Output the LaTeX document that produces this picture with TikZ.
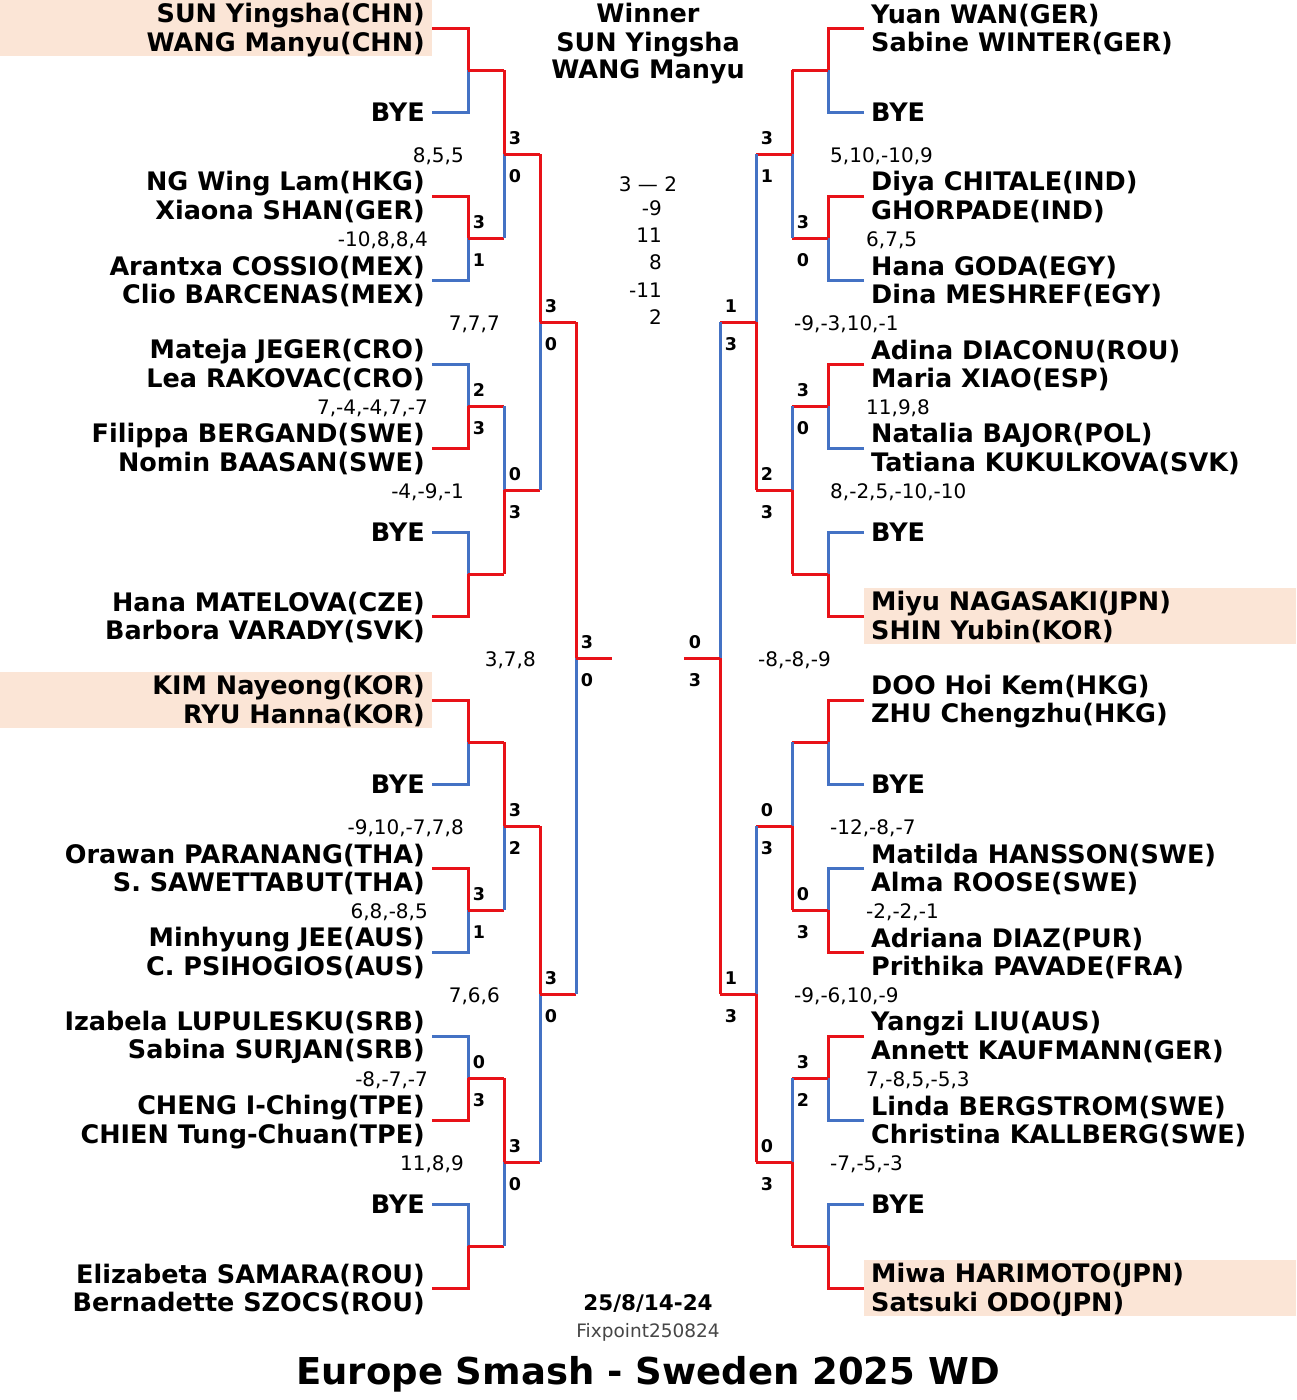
\documentclass[tikz,border=0pt]{standalone}
\usepackage{fontspec}
\setmainfont{DejaVu Sans}
\usetikzlibrary{calc}
\definecolor{wred}{RGB}{232,18,24}
\definecolor{lblue}{RGB}{68,114,196}
\definecolor{peach}{RGB}{251,229,214}
\definecolor{fxgray}{RGB}{70,70,70}
\newcommand\rs{\rule[-5pt]{0pt}{28pt}}
\newcommand\entL[1]{{\renewcommand\arraystretch{0}\begin{tabular}{@{}r@{}}#1\end{tabular}}}
\newcommand\entR[1]{{\renewcommand\arraystretch{0}\begin{tabular}{@{}l@{}}#1\end{tabular}}}
\tikzset{
  nmL/.style={anchor=east, inner xsep=7pt, inner ysep=0pt, font=\fontsize{25.5}{28}\selectfont\bfseries},
  nmR/.style={anchor=west, inner xsep=7pt, inner ysep=0pt, font=\fontsize{25.5}{28}\selectfont\bfseries},
  winln/.style={draw=wred, line width=3pt},
  loseln/.style={draw=lblue, line width=3pt},
  sclab/.style={font=\fontsize{17.5}{20}\selectfont\bfseries, inner sep=0pt},
  gscore/.style={font=\fontsize{20}{22}\selectfont, inner sep=0pt},
  hilite/.style={fill=peach, draw=none},
}
% labels for a left junction / right junction
\newcommand\scL[3]{\node[sclab] (s#1t) at ($(#1)+(11,-16)$) {#2};\node[sclab] (s#1b) at ($(#1)+(11,22)$) {#3};}
\newcommand\scR[3]{\node[sclab] (s#1t) at ($(#1)+(-25,-16)$) {#2};\node[sclab] (s#1b) at ($(#1)+(-25,22)$) {#3};}
\newcommand\gsL[2]{\node[gscore, anchor=base east] (g#1) at ($(#1)+(-40,8)$) {#2};}
\newcommand\gsR[2]{\node[gscore, anchor=base west] (g#1) at ($(#1)+(38,8)$) {#2};}
% connectors
\newcommand\firstL[3]{\draw[#1] (#2.east) -| (#3);}
\newcommand\firstR[3]{\draw[#1] (#2.west) -| (#3);}
\newcommand\adv[3]{\draw[winln] (#2) -- (#2 -| #3);\draw[#1] (#2 -| #3) -- (#3);}
\begin{document}
\begin{tikzpicture}[x=1pt,y=-1pt]
\useasboundingbox (0,0) rectangle (1296,1400);
\fill[white] (0,0) rectangle (1296,1400);
% highlights
\path[hilite] (0,0) rectangle (432,56);
\path[hilite] (0,672) rectangle (432,728);
\path[hilite] (864,588) rectangle (1296,644);
\path[hilite] (864,1260) rectangle (1296,1316);
% ---------------- left entries
\node[nmL] (L1) at (432,28) {\entL{SUN Yingsha(CHN)\rs\\WANG Manyu(CHN)\rs}};
\node[nmL] (L2) at (432,112) {\entL{BYE\rs}};
\node[nmL] (L3) at (432,196) {\entL{NG Wing Lam(HKG)\rs\\Xiaona SHAN(GER)\rs}};
\node[nmL] (L4) at (432,280) {\entL{Arantxa COSSIO(MEX)\rs\\Clio BARCENAS(MEX)\rs}};
\node[nmL] (L5) at (432,364) {\entL{Mateja JEGER(CRO)\rs\\Lea RAKOVAC(CRO)\rs}};
\node[nmL] (L6) at (432,448) {\entL{Filippa BERGAND(SWE)\rs\\Nomin BAASAN(SWE)\rs}};
\node[nmL] (L7) at (432,532) {\entL{BYE\rs}};
\node[nmL] (L8) at (432,616) {\entL{Hana MATELOVA(CZE)\rs\\Barbora VARADY(SVK)\rs}};
\node[nmL] (L9) at (432,700) {\entL{KIM Nayeong(KOR)\rs\\RYU Hanna(KOR)\rs}};
\node[nmL] (L10) at (432,784) {\entL{BYE\rs}};
\node[nmL] (L11) at (432,868) {\entL{Orawan PARANANG(THA)\rs\\S. SAWETTABUT(THA)\rs}};
\node[nmL] (L12) at (432,952) {\entL{Minhyung JEE(AUS)\rs\\C. PSIHOGIOS(AUS)\rs}};
\node[nmL] (L13) at (432,1036) {\entL{Izabela LUPULESKU(SRB)\rs\\Sabina SURJAN(SRB)\rs}};
\node[nmL] (L14) at (432,1120) {\entL{CHENG I-Ching(TPE)\rs\\CHIEN Tung-Chuan(TPE)\rs}};
\node[nmL] (L15) at (432,1204) {\entL{BYE\rs}};
\node[nmL] (L16) at (432,1288) {\entL{Elizabeta SAMARA(ROU)\rs\\Bernadette SZOCS(ROU)\rs}};
% ---------------- right entries
\node[nmR] (R1) at (864,28) {\entR{Yuan WAN(GER)\rs\\Sabine WINTER(GER)\rs}};
\node[nmR] (R2) at (864,112) {\entR{BYE\rs}};
\node[nmR] (R3) at (864,196) {\entR{Diya CHITALE(IND)\rs\\GHORPADE(IND)\rs}};
\node[nmR] (R4) at (864,280) {\entR{Hana GODA(EGY)\rs\\Dina MESHREF(EGY)\rs}};
\node[nmR] (R5) at (864,364) {\entR{Adina DIACONU(ROU)\rs\\Maria XIAO(ESP)\rs}};
\node[nmR] (R6) at (864,448) {\entR{Natalia BAJOR(POL)\rs\\Tatiana KUKULKOVA(SVK)\rs}};
\node[nmR] (R7) at (864,532) {\entR{BYE\rs}};
\node[nmR] (R8) at (864,616) {\entR{Miyu NAGASAKI(JPN)\rs\\SHIN Yubin(KOR)\rs}};
\node[nmR] (R9) at (864,700) {\entR{DOO Hoi Kem(HKG)\rs\\ZHU Chengzhu(HKG)\rs}};
\node[nmR] (R10) at (864,784) {\entR{BYE\rs}};
\node[nmR] (R11) at (864,868) {\entR{Matilda HANSSON(SWE)\rs\\Alma ROOSE(SWE)\rs}};
\node[nmR] (R12) at (864,952) {\entR{Adriana DIAZ(PUR)\rs\\Prithika PAVADE(FRA)\rs}};
\node[nmR] (R13) at (864,1036) {\entR{Yangzi LIU(AUS)\rs\\Annett KAUFMANN(GER)\rs}};
\node[nmR] (R14) at (864,1120) {\entR{Linda BERGSTROM(SWE)\rs\\Christina KALLBERG(SWE)\rs}};
\node[nmR] (R15) at (864,1204) {\entR{BYE\rs}};
\node[nmR] (R16) at (864,1288) {\entR{Miwa HARIMOTO(JPN)\rs\\Satsuki ODO(JPN)\rs}};
% ---------------- junctions
\foreach \i/\y in {1/70,2/238,3/406,4/574,5/742,6/910,7/1078,8/1246}{
  \coordinate (LA\i) at (468,\y); \coordinate (RA\i) at (828,\y);}
\foreach \i/\y in {1/154,2/490,3/826,4/1162}{
  \coordinate (LB\i) at (504,\y); \coordinate (RB\i) at (792,\y);}
\coordinate (LC1) at (540,322); \coordinate (LC2) at (540,994);
\coordinate (RC1) at (756,322); \coordinate (RC2) at (756,994);
\coordinate (LD) at (576,658); \coordinate (RD) at (720,658);
\coordinate (LF) at (612,658); \coordinate (RF) at (684,658);
% ---------------- losing lines (blue) first
\firstL{loseln}{L2}{LA1} \firstL{loseln}{L4}{LA2} \firstL{loseln}{L5}{LA3} \firstL{loseln}{L7}{LA4}
\firstL{loseln}{L10}{LA5} \firstL{loseln}{L12}{LA6} \firstL{loseln}{L13}{LA7} \firstL{loseln}{L15}{LA8}
\firstR{loseln}{R2}{RA1} \firstR{loseln}{R4}{RA2} \firstR{loseln}{R6}{RA3} \firstR{loseln}{R7}{RA4}
\firstR{loseln}{R10}{RA5} \firstR{loseln}{R11}{RA6} \firstR{loseln}{R14}{RA7} \firstR{loseln}{R15}{RA8}
\adv{loseln}{LA2}{LB1} \adv{loseln}{LA3}{LB2} \adv{loseln}{LA6}{LB3} \adv{loseln}{LA8}{LB4}
\adv{loseln}{RA2}{RB1} \adv{loseln}{RA3}{RB2} \adv{loseln}{RA5}{RB3} \adv{loseln}{RA7}{RB4}
\adv{loseln}{LB2}{LC1} \adv{loseln}{LB4}{LC2}
\adv{loseln}{RB1}{RC1} \adv{loseln}{RB3}{RC2}
\adv{loseln}{LC2}{LD} \adv{loseln}{RC1}{RD}
% ---------------- winning lines (red)
\firstL{winln}{L1}{LA1} \firstL{winln}{L3}{LA2} \firstL{winln}{L6}{LA3} \firstL{winln}{L8}{LA4}
\firstL{winln}{L9}{LA5} \firstL{winln}{L11}{LA6} \firstL{winln}{L14}{LA7} \firstL{winln}{L16}{LA8}
\firstR{winln}{R1}{RA1} \firstR{winln}{R3}{RA2} \firstR{winln}{R5}{RA3} \firstR{winln}{R8}{RA4}
\firstR{winln}{R9}{RA5} \firstR{winln}{R12}{RA6} \firstR{winln}{R13}{RA7} \firstR{winln}{R16}{RA8}
\adv{winln}{LA1}{LB1} \adv{winln}{LA4}{LB2} \adv{winln}{LA5}{LB3} \adv{winln}{LA7}{LB4}
\adv{winln}{RA1}{RB1} \adv{winln}{RA4}{RB2} \adv{winln}{RA6}{RB3} \adv{winln}{RA8}{RB4}
\adv{winln}{LB1}{LC1} \adv{winln}{LB3}{LC2}
\adv{winln}{RB2}{RC1} \adv{winln}{RB4}{RC2}
\adv{winln}{LC1}{LD} \adv{winln}{RC2}{RD}
\draw[winln] (LD) -- (LF);
\draw[winln] (RD) -- (RF);
% ---------------- match scores
\scL{LA2}{3}{1} \scL{LA3}{2}{3} \scL{LA6}{3}{1} \scL{LA7}{0}{3}
\scL{LB1}{3}{0} \scL{LB2}{0}{3} \scL{LB3}{3}{2} \scL{LB4}{3}{0}
\scL{LC1}{3}{0} \scL{LC2}{3}{0} \scL{LD}{3}{0}
\scR{RA2}{3}{0} \scR{RA3}{3}{0} \scR{RA6}{0}{3} \scR{RA7}{3}{2}
\scR{RB1}{3}{1} \scR{RB2}{2}{3} \scR{RB3}{0}{3} \scR{RB4}{0}{3}
\scR{RC1}{1}{3} \scR{RC2}{1}{3} \scR{RD}{0}{3}
% ---------------- game scores
\gsL{LB1}{8,5,5} \gsL{LA2}{-10,8,8,4} \gsL{LC1}{7,7,7} \gsL{LA3}{7,-4,-4,7,-7}
\gsL{LB2}{-4,-9,-1} \gsL{LD}{3,7,8} \gsL{LB3}{-9,10,-7,7,8} \gsL{LA6}{6,8,-8,5}
\gsL{LC2}{7,6,6} \gsL{LA7}{-8,-7,-7} \gsL{LB4}{11,8,9}
\gsR{RB1}{5,10,-10,9} \gsR{RA2}{6,7,5} \gsR{RC1}{-9,-3,10,-1} \gsR{RA3}{11,9,8}
\gsR{RB2}{8,-2,5,-10,-10} \gsR{RD}{-8,-8,-9} \gsR{RB3}{-12,-8,-7} \gsR{RA6}{-2,-2,-1}
\gsR{RC2}{-9,-6,10,-9} \gsR{RA7}{7,-8,5,-5,3} \gsR{RB4}{-7,-5,-3}
% ---------------- centre
\node[font=\fontsize{25.5}{28}\selectfont\bfseries, anchor=base, inner sep=0pt] (win1) at (648,23) {Winner};
\node[font=\fontsize{25.5}{28}\selectfont\bfseries, anchor=base, inner sep=0pt] (win2) at (648,51) {SUN Yingsha};
\node[font=\fontsize{25.5}{28}\selectfont\bfseries, anchor=base, inner sep=0pt] (win3) at (648,78) {WANG Manyu};
\node[gscore, anchor=base] (fin0) at (648,191) {3 — 2};
\node[gscore, anchor=base east] (fin1) at (662,215) {-9};
\node[gscore, anchor=base east] (fin2) at (662,242) {11};
\node[gscore, anchor=base east] (fin3) at (662,269) {8};
\node[gscore, anchor=base east] (fin4) at (662,297) {-11};
\node[gscore, anchor=base east] (fin5) at (662,324) {2};
\node[font=\fontsize{21.5}{24}\selectfont\bfseries, anchor=base, inner sep=0pt] (date) at (648,1310) {25/8/14-24};
\node[font=\fontsize{18.5}{20}\selectfont, text=fxgray, anchor=base, inner sep=0pt] (fix) at (648,1337) {Fixpoint250824};
\node[font=\fontsize{37}{40}\selectfont\bfseries, anchor=base, inner sep=0pt] (title) at (648,1384) {Europe Smash - Sweden 2025 WD};
\end{tikzpicture}
\end{document}
